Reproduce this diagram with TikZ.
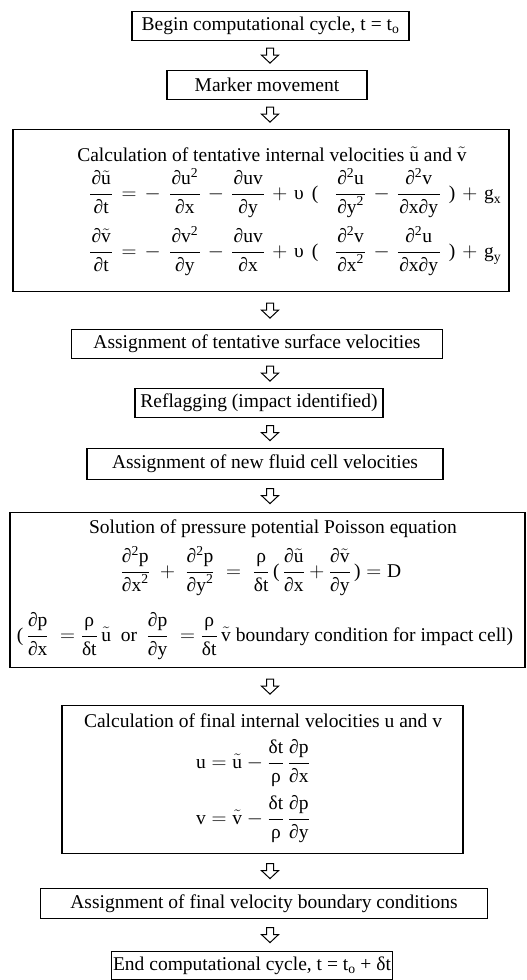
\documentclass[tikz,border=0pt]{standalone}
\usepackage{fontspec}
\setmainfont{Liberation Serif}
\setmathrm{Liberation Serif}
\usetikzlibrary{calc}
\DeclareSymbolFont{tldfont}{OT1}{lmr}{m}{n}
\DeclareMathAccent{\tld}{\mathalpha}{tldfont}{"7E}
\newcommand\utl{\ensuremath{\tld{\mathrm{u}}}}
\newcommand\vtl{\ensuremath{\tld{\mathrm{v}}}}
\newcommand\sq{\ensuremath{^{\mathrm{2}}}}
\newcommand\fr[2]{\frac{\mbox{#1}}{\mbox{#2}}}
\newcommand\frp[2]{\frac{\hspace{1.5pt}\mbox{#1}\hspace{1.5pt}}{\hspace{1.5pt}\mbox{#2}\hspace{1.5pt}}}
\begin{document}
\begin{tikzpicture}[x=1pt,y=-1pt,
  every node/.style={font=\fontsize{19.5}{23}\selectfont},
  box/.style={draw, line width=1.2pt, inner sep=0pt, anchor=north, align=center, minimum height=29pt},
  txt/.style={inner sep=0pt, anchor=base},
  wide/.style={execute at begin node={\medmuskip=6mu\thickmuskip=7mu}},
  harrow/.pic={\draw[line width=1pt, line join=miter, fill=white]
     (-3.5,-7.5) -- (3.5,-7.5) -- (3.5,-0.5) -- (8.5,-0.5) -- (0,7.5) -- (-8.5,-0.5) -- (-3.5,-0.5) -- cycle;}
]
\useasboundingbox (0,0) rectangle (527,980);

\node[box, minimum width=277pt] (b1) at (270.5,11) {Begin computational cycle, t = t$_{\mathrm{o}}$};
\node[box, minimum width=200pt] (b2) at (267,70) {Marker movement};

\node[box, minimum width=496pt, minimum height=162pt] (b3) at (261,129) {};
\node[txt] (b3a) at (272,161) {Calculation of tentative internal velocities \utl{} and \vtl};
\node[txt, wide] (b3b) at (295,199) {$\displaystyle \frp{∂\utl}{∂t} = -\;\frp{∂u\sq}{∂x} - \frp{∂uv}{∂y} + \mbox{υ}\;\mbox{(}\;\;\frp{∂\sq u}{∂y\sq} - \frp{∂\sq v}{∂x∂y}\;\mbox{)} + \mbox{g}_{\mathrm{x}}$};
\node[txt, wide] (b3c) at (295,257) {$\displaystyle \frp{∂\vtl}{∂t} = -\;\frp{∂v\sq}{∂y} - \frp{∂uv}{∂x} + \mbox{υ}\;\mbox{(}\;\;\frp{∂\sq v}{∂x\sq} - \frp{∂\sq u}{∂x∂y}\;\mbox{)} + \mbox{g}_{\mathrm{y}}$};

\node[box, minimum width=371pt] (b4) at (257,329) {Assignment of tentative surface velocities};
\node[box, minimum width=248pt] (b5) at (259,388) {Reflagging (impact identified)};
\node[box, minimum width=356pt, minimum height=31pt] (b6) at (265,448) {Assignment of new fluid cell velocities};

\node[box, minimum width=515pt, minimum height=155pt] (b7) at (267.5,512) {};
\node[txt] (b7a) at (273,533) {Solution of pressure potential Poisson equation};
\node[txt] (b7b) at (261,577) {$\displaystyle \fr{∂\sq p}{∂x\sq} \;+\; \fr{∂\sq p}{∂y\sq} \;=\; \fr{ρ}{δt}\,\mbox{(}\,\fr{∂\utl}{∂x} + \fr{∂\vtl}{∂y}\,\mbox{)} = \mbox{D}$};
\node[txt] (b7c) at (265,641) {$\displaystyle \mbox{(}\,\fr{∂p}{∂x} \;=\fr{ρ}{δt}\,\utl\ \ \mbox{or}\ \ \fr{∂p}{∂y}\;=\fr{ρ}{δt}\,\vtl\ \mbox{boundary condition for impact cell)}$};

\node[box, minimum width=401pt, minimum height=148pt] (b8) at (262.5,705) {};
\node[txt] (b8a) at (263,727) {Calculation of final internal velocities u and v};
\node[txt] (b8b) at (253,768) {$\displaystyle \mbox{u} = \utl - \fr{δt}{ρ}\,\fr{∂p}{∂x}$};
\node[txt] (b8c) at (253,824) {$\displaystyle \mbox{v} = \vtl - \fr{δt}{ρ}\,\fr{∂p}{∂y}$};

\node[box, minimum width=447pt, minimum height=30pt] (b9) at (264,888) {Assignment of final velocity boundary conditions};
\node[box, minimum width=281pt, minimum height=28pt] (b10) at (252,951) {End computational cycle, t = t$_{\mathrm{o}}$ + δt};

\coordinate (ax) at (270,0);
\foreach \a/\b in {b1/b2,b2/b3,b3/b4,b4/b5,b5/b6,b6/b7,b7/b8,b8/b9,b9/b10}{
  \path (\a.south) -- (\b.north) coordinate[midway] (m\a);
  \pic at (ax |- m\a) {harrow};
}
\end{tikzpicture}
\end{document}
